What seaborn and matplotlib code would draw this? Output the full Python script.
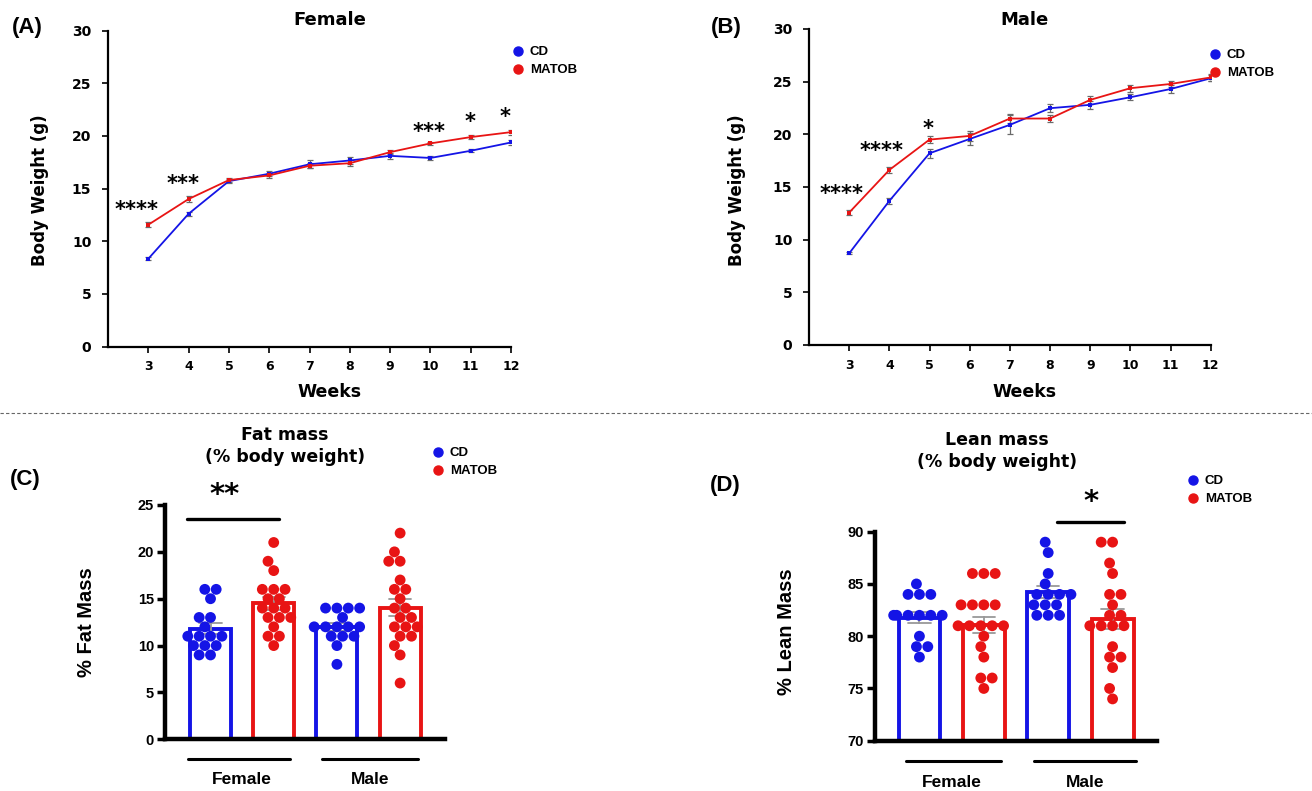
import numpy as np
import pandas as pd
import matplotlib.pyplot as plt
import seaborn as sns
from matplotlib.lines import Line2D

sns.set_style("ticks")
plt.rcParams['font.family'] = ['DejaVu Sans']
plt.rcParams.update({'text.color': 'black', 'axes.labelcolor': 'black',
                     'xtick.color': 'black', 'ytick.color': 'black',
                     'axes.edgecolor': 'black'})

BLUE = "#1414e6"
RED = "#e81414"

# --- growth curves (mean +/- SEM, g) ---
weeks = [3, 4, 5, 6, 7, 8, 9, 10, 11, 12]
female_cd = [8.33, 12.6, 15.7, 16.4, 17.3, 17.66, 18.1, 17.9, 18.58, 19.37]
female_cd_sem = [0.12, 0.2, 0.2, 0.25, 0.4, 0.3, 0.3, 0.2, 0.15, 0.2]
female_matob = [11.56, 14.0, 15.8, 16.24, 17.16, 17.4, 18.45, 19.28, 19.88, 20.35]
female_matob_sem = [0.25, 0.25, 0.2, 0.25, 0.25, 0.3, 0.2, 0.15, 0.2, 0.25]
male_cd = [8.7, 13.68, 18.2, 19.56, 20.9, 22.48, 22.8, 23.52, 24.3, 25.32]
male_cd_sem = [0.1, 0.25, 0.4, 0.6, 0.9, 0.4, 0.35, 0.3, 0.35, 0.3]
male_matob = [12.57, 16.62, 19.5, 19.85, 21.5, 21.5, 23.27, 24.38, 24.78, 25.4]
male_matob_sem = [0.25, 0.3, 0.3, 0.45, 0.45, 0.35, 0.35, 0.35, 0.3, 0.3]

female_stars = [("****", 2.72, 13.0), ("***", 3.85, 15.4), ("***", 9.97, 20.4),
                ("*", 10.99, 21.3), ("*", 11.86, 21.8)]
male_stars = [("****", 2.8, 14.3), ("****", 3.8, 18.45), ("*", 4.96, 20.5)]

# --- body composition (individual animals, %) ---
groups = ["Female CD", "Female MATOB", "Male CD", "Male MATOB"]
fat_female_cd = [16, 16, 15, 13, 13, 12, 11, 11, 11, 11, 10, 10, 10, 9, 9]
fat_female_matob = [21, 19, 18, 16, 16, 16, 15, 15, 14, 14, 14, 13, 13, 13, 12, 11, 11, 10]
fat_male_cd = [14, 14, 14, 14, 13, 12, 12, 12, 12, 12, 11, 11, 11, 10, 8]
fat_male_matob = [22, 20, 19, 19, 17, 16, 16, 15, 14, 14, 13, 13, 12, 12, 12, 11, 11, 10, 9, 6]
lean_female_cd = [85, 84, 84, 84, 82, 82, 82, 82, 82, 82, 80, 79, 79, 78]
lean_female_matob = [86, 86, 86, 83, 83, 83, 83, 81, 81, 81, 81, 81, 80, 79, 78, 76, 76, 75]
lean_male_cd = [89, 88, 86, 85, 84, 84, 84, 84, 83, 83, 83, 82, 82, 82]
lean_male_matob = [89, 89, 87, 86, 84, 84, 83, 82, 82, 81, 81, 81, 81, 79, 78, 78, 77, 75, 74]

W, H = 1312, 791
fig = plt.figure(figsize=(W / 100, H / 100), dpi=100)


def fx(px):
    return px / W


def fy(py):
    return 1 - py / H


def rect(x0, y0, x1, y1):
    return [fx(x0), fy(y1), (x1 - x0) / W, (y1 - y0) / H]


def add_legend(px, py):
    handles = [Line2D([0], [0], marker='o', linestyle='none', markersize=6.5,
                      markerfacecolor=c, markeredgecolor=c, label=l)
               for c, l in [(BLUE, "CD"), (RED, "MATOB")]]
    fig.legend(handles=handles, loc='upper left', bbox_to_anchor=(fx(px), fy(py)),
               frameon=False, handlelength=0.6, handletextpad=0.6, labelspacing=0.45,
               borderpad=0, borderaxespad=0,
               prop={'family': 'Liberation Sans', 'weight': 'bold', 'size': 9.5})


def growth_panel(r, cd, cd_sem, mat, mat_sem, title, stars, title_x, label_x):
    ax = fig.add_axes(r)
    df = pd.DataFrame({"week": weeks * 2, "bw": cd + mat,
                       "diet": ["CD"] * len(weeks) + ["MATOB"] * len(weeks)})
    for m, e in [(cd, cd_sem), (mat, mat_sem)]:
        ax.errorbar(weeks, m, yerr=e, fmt='none', ecolor='#6a6a6a', elinewidth=0.9,
                    capsize=2, capthick=0.9, zorder=2)
    sns.lineplot(data=df, x="week", y="bw", hue="diet", palette={"CD": BLUE, "MATOB": RED},
                 marker="s", markersize=3.5, markeredgewidth=0, linewidth=1.3,
                 legend=False, ax=ax, zorder=3)
    for s, x, y in stars:
        ax.text(x, y, s, ha='center', va='center', fontsize=15, fontweight='bold')
    ax.set_xlim(2.0, 12)
    ax.set_ylim(0, 30)
    ax.set_xticks(weeks)
    ax.set_yticks([0, 5, 10, 15, 20, 25, 30])
    ax.tick_params(axis='x', labelsize=9, length=4, width=1.2, pad=6)
    ax.tick_params(axis='y', labelsize=10, length=4, width=1.2, pad=8)
    for lab in ax.get_xticklabels() + ax.get_yticklabels():
        lab.set_fontweight('bold')
    for sp in ['top', 'right']:
        ax.spines[sp].set_visible(False)
    for sp in ['left', 'bottom']:
        ax.spines[sp].set_linewidth(1.6)
    ax.set_xlabel("")
    ax.set_ylabel("")
    fig.text(fx(title_x), fy(20), title, ha='center', va='center', fontsize=13, fontweight='bold')
    fig.text(fx(title_x), fy(392), "Weeks", ha='center', va='center', fontsize=12.5,
             fontweight='bold')
    fig.text(fx(label_x), fy(190), "Body Weight (g)", ha='center', va='center', rotation=90,
             fontsize=12, fontweight='bold')
    return ax


def mass_panel(r, data, xlim, ylim, yticks, title, title_x, title_y,
               sig_x, sig_y, sig_text, star_x, star_y, under_lines, line_y, text_y):
    ax = fig.add_axes(r)
    df = pd.DataFrame({"group": np.repeat(groups, [len(v) for v in data]),
                       "value": np.concatenate(data)})
    pal = {"Female CD": BLUE, "Female MATOB": RED, "Male CD": BLUE, "Male MATOB": RED}
    sns.barplot(data=df, x="group", y="value", hue="group", order=groups, hue_order=groups,
                palette=pal, fill=False, width=0.65, linewidth=2.8, errorbar="se",
                capsize=0.35, err_kws={"linewidth": 1.3, "color": "0.6"}, legend=False, ax=ax)
    sns.swarmplot(data=df, x="group", y="value", hue="group", order=groups, hue_order=groups,
                  palette=pal, size=7.8, legend=False, ax=ax, zorder=3)
    ax.set_xlim(*xlim)
    ax.set_ylim(*ylim)
    ax.set_yticks(yticks)
    ax.set_xticks([])
    ax.set_xlabel("")
    ax.set_ylabel("")
    for sp in ['top', 'right']:
        ax.spines[sp].set_visible(False)
    for sp in ['left', 'bottom']:
        ax.spines[sp].set_linewidth(3.2)
    ax.tick_params(axis='y', length=6, width=2.5, labelsize=10.5, pad=2)
    for lab in ax.get_yticklabels():
        lab.set_fontweight('bold')
        lab.set_family('Liberation Sans')
    # significance bar
    ax.plot(sig_x, [sig_y, sig_y], color='black', linewidth=2.4, clip_on=False)
    ax.text(star_x, star_y, sig_text, ha='center', va='center', fontsize=21,
            fontweight='bold', clip_on=False)
    # sex group lines under the x axis
    tr = ax.get_xaxis_transform()
    for (x0, x1), name in zip(under_lines, ["Female", "Male"]):
        ax.plot([x0, x1], [line_y, line_y], color='black', linewidth=2.2, transform=tr,
                clip_on=False)
        ax.text((x0 + x1) / 2 if name == "Male" else 0.5, text_y, name, transform=tr,
                ha='center', va='center', fontsize=12.5, fontweight='bold',
                family='Liberation Sans')
    fig.text(fx(title_x), fy(title_y), title, ha='center', va='center', fontsize=12.5,
             fontweight='bold', linespacing=1.35)
    return ax


# panel A / B
growth_panel(rect(108, 30.5, 511, 346.5), female_cd, female_cd_sem, female_matob,
             female_matob_sem, "Female", female_stars, 330, 40)
growth_panel(rect(809, 29, 1210.7, 345), male_cd, male_cd_sem, male_matob,
             male_matob_sem, "Male", male_stars, 1025, 737)
add_legend(514, 46)
add_legend(1211, 49)

# panel C / D
mass_panel(rect(165, 505, 445, 739.3),
           [fat_female_cd, fat_female_matob, fat_male_cd, fat_male_matob],
           (-0.72, 3.71), (0, 25), [0, 5, 10, 15, 20, 25],
           "Fat mass\n(% body weight)", 285, 446,
           [-0.37, 1.09], 23.5, "**", 0.23, 26.1,
           [(-0.36, 1.26), (1.77, 3.28)], -0.084, -0.173)
mass_panel(rect(875, 531.7, 1157, 740.7),
           [lean_female_cd, lean_female_matob, lean_male_cd, lean_male_matob],
           (-0.69, 3.69), (70, 90), [70, 75, 80, 85, 90],
           "Lean mass\n(% body weight)", 997, 451,
           [2.14, 3.17], 90.93, "*", 2.66, 92.8,
           [(-0.21, 1.27), (1.78, 3.36)], -0.097, -0.198)
fig.text(fx(87), fy(622), "% Fat Mass", ha='center', va='center', rotation=90,
         fontsize=14.5, fontweight='bold', family='Liberation Sans')
fig.text(fx(786), fy(632), "% Lean Mass", ha='center', va='center', rotation=90,
         fontsize=14.5, fontweight='bold', family='Liberation Sans')
add_legend(434, 447)
add_legend(1189, 475)

# panel letters
for s, x, y in [("(A)", 27, 28), ("(B)", 726, 28), ("(C)", 25, 480), ("(D)", 725, 486)]:
    fig.text(fx(x), fy(y), s, ha='center', va='center', fontsize=16, fontweight='bold',
             family='Liberation Sans')

# dashed separator
fig.add_artist(Line2D([0, 1], [fy(413), fy(413)], transform=fig.transFigure,
                      color='#666666', linestyle=(0, (3, 2)), linewidth=0.8))

fig.savefig("out.png", dpi=100)
